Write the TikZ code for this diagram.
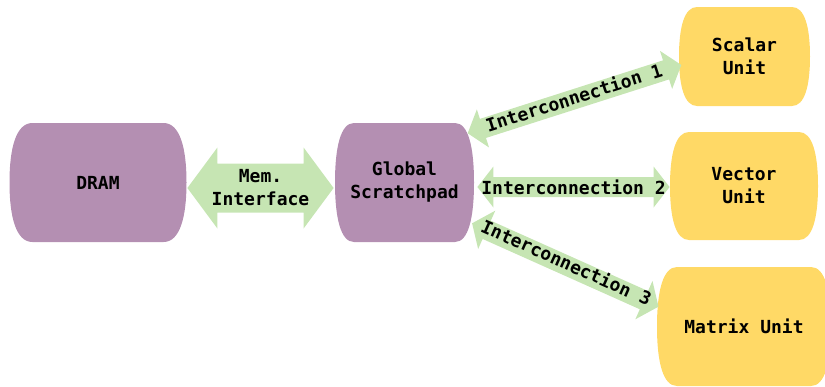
\documentclass[tikz,border=0pt]{standalone}
\usepackage{fontspec}
\usetikzlibrary{calc}
\newfontfamily\diafont{DejaVu Sans Mono}

\definecolor{podpurple}{HTML}{B48FB2}
\definecolor{podyellow}{HTML}{FFD966}
\definecolor{linkgreen}{HTML}{C6E5B3}

\tikzset{
  podtext/.style={inner sep=0pt, align=center, text=black,
    font=\diafont\bfseries\fontsize{9}{11.5}\selectfont},
  linklabel/.style={inner sep=0pt, align=center, text=black,
    font=\diafont\bfseries\fontsize{9}{11.5}\selectfont},
  linkfill/.style={fill=linkgreen, draw=none},
}

% Rounded "pod" outline: flat top and bottom, bulging sides.
% #1 left, #2 top, #3 right, #4 bottom, #5 bulge
\newcommand\podpath[5]{%
  ({#1+#5},#2) -- ({#3-#5},#2)
  .. controls ({#3-0.3*#5},#2) and (#3,{#2+0.2*(#4-#2)}) .. (#3,{0.5*(#2+#4)})
  .. controls (#3,{#4-0.2*(#4-#2)}) and ({#3-0.3*#5},#4) .. ({#3-#5},#4)
  -- ({#1+#5},#4)
  .. controls ({#1+0.3*#5},#4) and (#1,{#4-0.2*(#4-#2)}) .. (#1,{0.5*(#2+#4)})
  .. controls (#1,{#2+0.2*(#4-#2)}) and ({#1+0.3*#5},#2) .. cycle}

% Pod with its name and label: #1 name, #2 colour, #3 left, #4 top, #5 right, #6 bottom, #7 bulge, #8 text
\newcommand\pod[8]{%
  \fill[#2] \podpath{#3}{#4}{#5}{#6}{#7};
  \node[podtext, minimum width={(#5-#3)*0.5pt}, minimum height={(#6-#4)*0.5pt}]
    (#1) at ({0.5*(#3+#5)},{0.5*(#4+#6)}) {#8};
}

% Two-headed block arrow between two named points.
% #1 from, #2 to, #3 shaft half width, #4 head half width, #5 head length (pt),
% #6 label offset across the shaft (pt), #7 label
\newdimen\arAx \newdimen\arAy \newdimen\arBx \newdimen\arBy
\newcommand\blockarrow[7]{%
  \pgfextractx{\arAx}{\pgfpointanchor{#1}{center}}%
  \pgfextracty{\arAy}{\pgfpointanchor{#1}{center}}%
  \pgfextractx{\arBx}{\pgfpointanchor{#2}{center}}%
  \pgfextracty{\arBy}{\pgfpointanchor{#2}{center}}%
  \pgfmathsetmacro\arAng{atan2(\the\arBy-\the\arAy,\the\arBx-\the\arAx)}%
  \pgfmathsetmacro\arLen{veclen(\the\arBx-\the\arAx,\the\arBy-\the\arAy)}%
  \begin{scope}[shift={(#1)}, rotate=\arAng, x=1pt, y=1pt]
    \fill[linkfill] (0,0) -- (#5,#4) -- (#5,#3) -- ({\arLen-#5},#3)
      -- ({\arLen-#5},#4) -- (\arLen,0) -- ({\arLen-#5},-#4)
      -- ({\arLen-#5},-#3) -- (#5,-#3) -- (#5,-#4) -- cycle;
    \node[linklabel, rotate=\arAng] at ({\arLen/2},#6) {#7};
  \end{scope}
}

\begin{document}
\begin{tikzpicture}[x=0.5pt, y=-0.5pt]
  \useasboundingbox (0,0) rectangle (825,386);

  % memory side
  \pod{dram}{podpurple}{9.5}{123}{186.5}{242}{23}{DRAM}
  \pod{gs}{podpurple}{335}{123}{474}{242}{19}{Global\\Scratchpad}

  % compute units
  \pod{scalar}{podyellow}{679}{7}{810}{106}{18}{Scalar\\Unit}
  \pod{vector}{podyellow}{670}{132}{818}{240}{19}{Vector\\Unit}
  \pod{matrix}{podyellow}{657}{267}{831}{386}{20}{Matrix Unit}

  % arrow end points on the pod outlines
  \coordinate (m1)  at ($(dram.east)+(0.5,5.5)$);
  \coordinate (m2)  at ($(gs.west)+(-1,5.5)$);
  \coordinate (i1a) at ($(gs.east)+(-6.7,-49.2)$);
  \coordinate (i1b) at ($(scalar.west)+(2.7,8.5)$);
  \coordinate (i2a) at ($(gs.east)+(3,4.5)$);
  \coordinate (i2b) at ($(vector.west)+(0,1)$);
  \coordinate (i3a) at ($(gs.east)+(-2.3,40.8)$);
  \coordinate (i3b) at ($(matrix.west)+(2,-19.8)$);

  % links
  \blockarrow{m1}{m2}{12.25}{20.25}{15}{0}{Mem.\\Interface}
  \blockarrow{i1a}{i1b}{5}{10}{8}{1}{Interconnection 1}
  \blockarrow{i2a}{i2b}{5}{10.25}{8}{0}{Interconnection 2}
  \blockarrow{i3a}{i3b}{5}{10.5}{8}{1.5}{Interconnection 3}
\end{tikzpicture}
\end{document}
